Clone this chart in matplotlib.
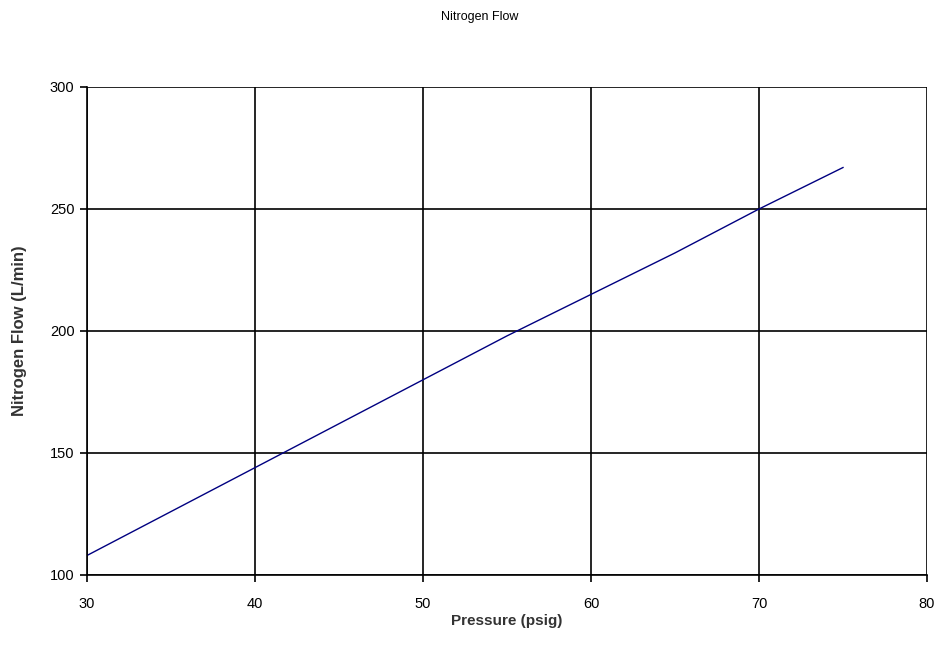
import matplotlib
matplotlib.use("Agg")
import matplotlib.pyplot as plt

pressure = [30, 35, 40, 45, 50, 55, 60, 65, 70, 75]
flow = [108, 126, 144, 162, 180, 198, 215, 232, 250, 267]
x_ticks = [30, 40, 50, 60, 70, 80]
y_ticks = [100, 150, 200, 250, 300]

plt.rcParams['font.family'] = ['Liberation Sans', 'DejaVu Sans']

fig = plt.figure(figsize=(9.41, 6.56), dpi=100)
ax = fig.add_axes([87/941, 1-575/656, (927-87)/941, (575-87)/656])
ax.plot(pressure, flow, color='#000080', linewidth=1.0)
ax.set_xlim(30, 80)
ax.set_ylim(100, 300)
ax.set_xticks(x_ticks)
ax.set_yticks(y_ticks)
ax.grid(True, color='black', linewidth=1.2)
ax.set_axisbelow(True)
for s in ax.spines.values():
    s.set_color('black')
    s.set_linewidth(1.2)
ax.spines['top'].set_visible(False)
ax.spines['right'].set_visible(False)
ax.tick_params(axis='both', direction='out', length=5, width=1.2, labelsize=10.5)
ax.tick_params(axis='x', pad=11)
ax.tick_params(axis='y', pad=4)
ax.set_xlabel('Pressure (psig)', fontsize=11, fontweight='bold', color='#333333')
ax.set_ylabel('Nitrogen Flow (L/min)', fontsize=12, fontweight='bold', color='#333333')
ax.xaxis.set_label_coords(0.5, -(621-575)/488, transform=ax.transAxes)
ax.yaxis.set_label_coords(-(87-20)/840, 0.5, transform=ax.transAxes)
ax.xaxis.label.set_va('center')
ax.yaxis.label.set_va('center')
fig.text(480/941, 1-17/656, 'Nitrogen Flow', ha='center', va='center', fontsize=9)
fig.savefig('out.png', dpi=100, facecolor='white')
